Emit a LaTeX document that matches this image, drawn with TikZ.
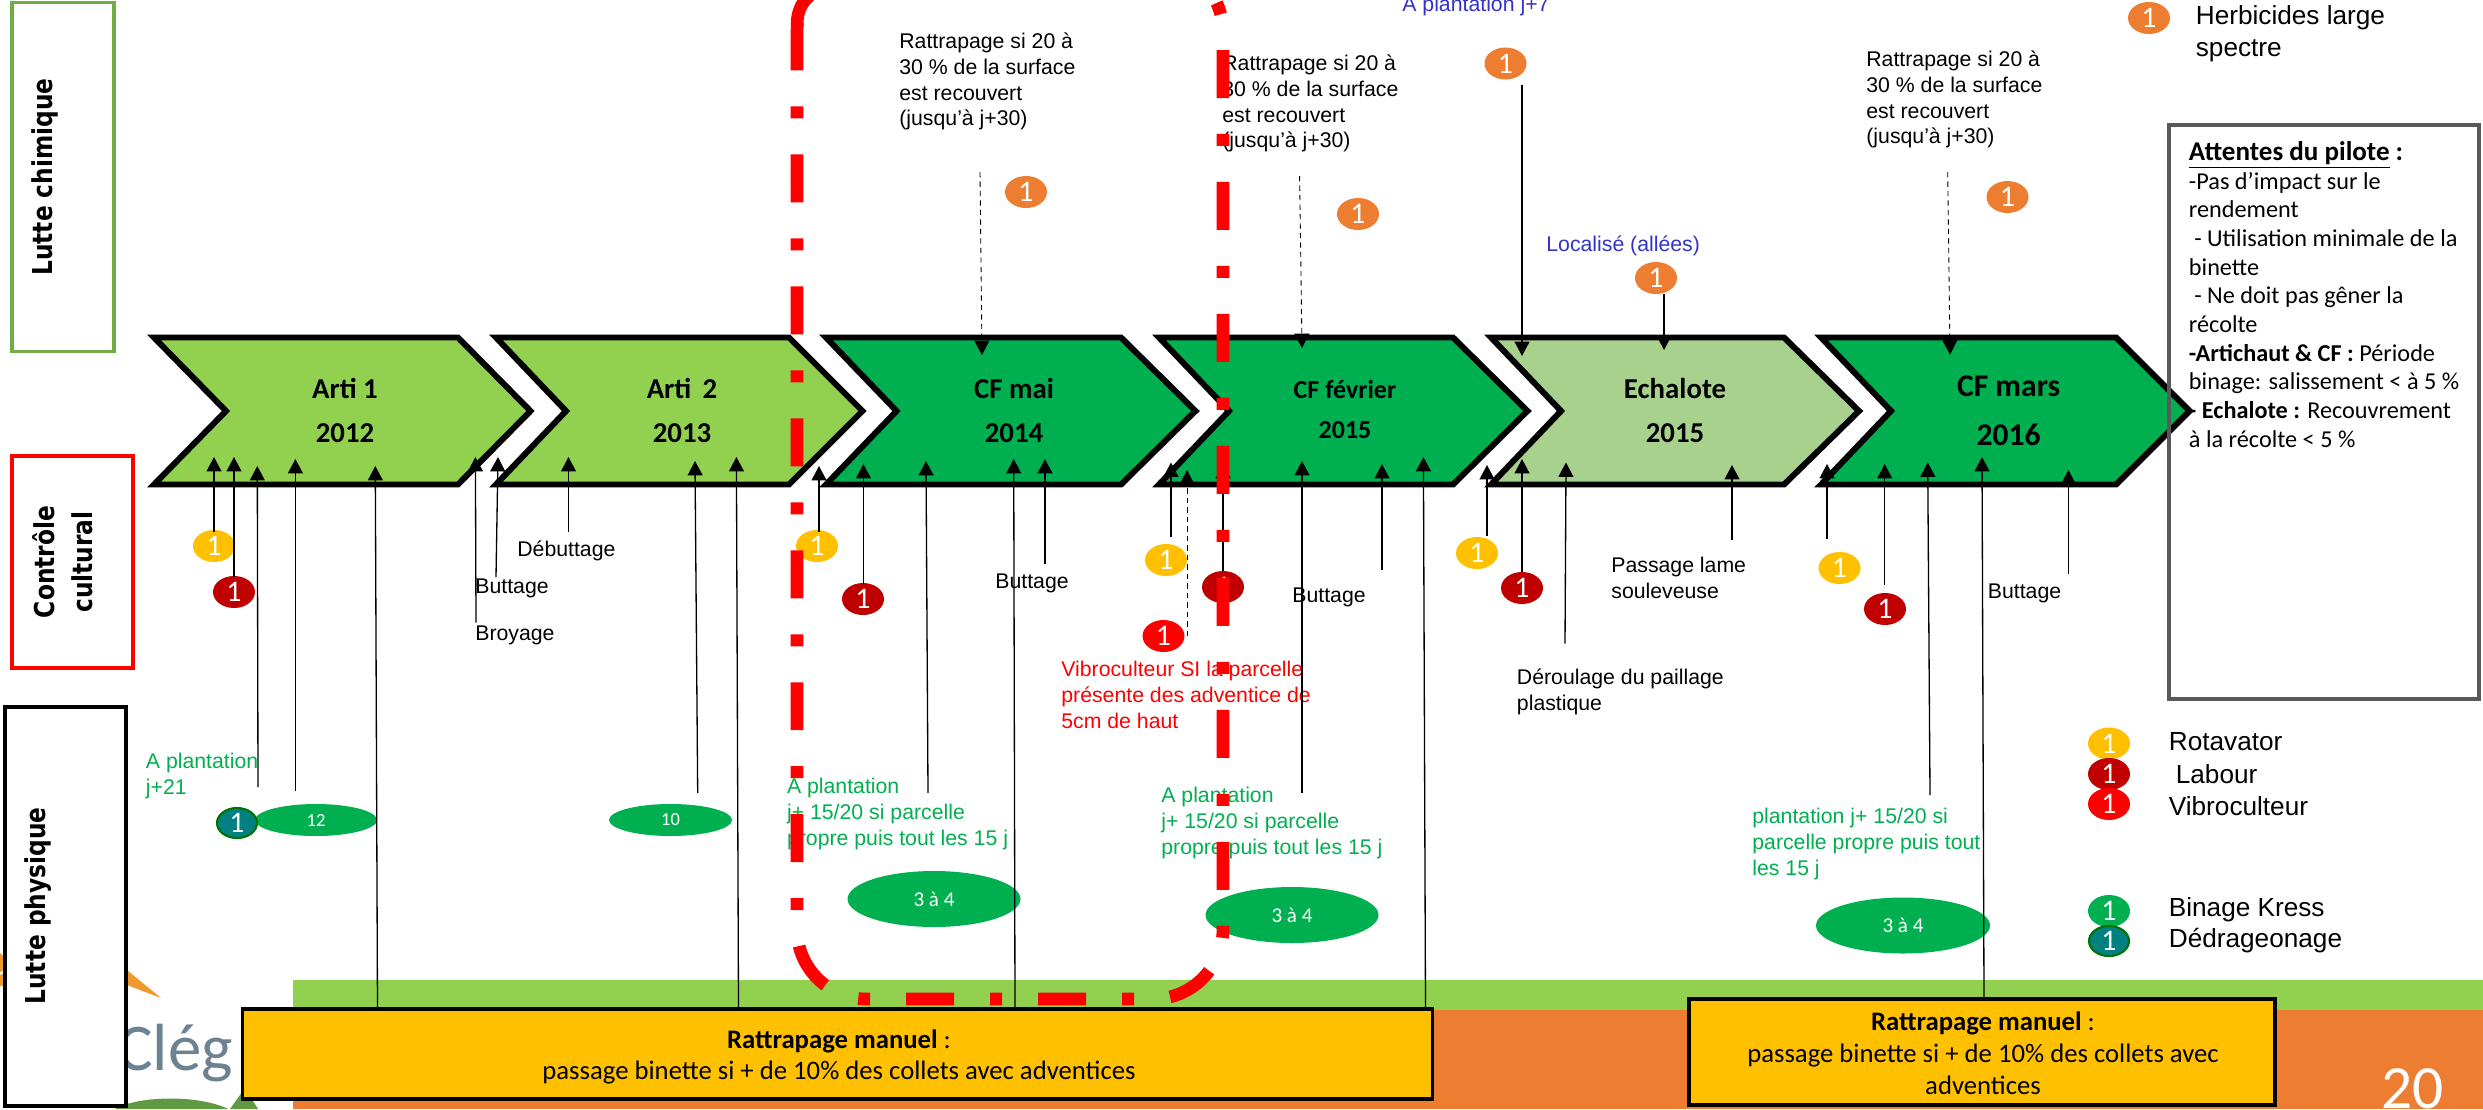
\documentclass[tikz,border=0pt]{standalone}
\usepackage{fontspec}
\usetikzlibrary{arrows.meta,shapes.geometric}
\setmainfont{Liberation Sans}
\newfontfamily\carl{Carlito}
\newfontfamily\djv[FakeStretch=0.85]{DejaVu Sans}
\definecolor{vertA}{HTML}{92D050}
\definecolor{vertB}{HTML}{00B050}
\definecolor{vertC}{HTML}{A9D18E}
\definecolor{orangeB}{HTML}{ED7D31}
\definecolor{jauneB}{HTML}{FFC000}
\definecolor{rougeD}{HTML}{C00000}
\definecolor{tealB}{HTML}{008080}
\definecolor{bleuT}{HTML}{3333CC}
\definecolor{grisB}{HTML}{595959}
\definecolor{grisL}{HTML}{6C8291}
\definecolor{vertL}{HTML}{5F9941}
\definecolor{orangeL}{HTML}{EE9A2E}
\definecolor{vertS}{HTML}{70AD47}
\tikzset{
  x=0.02cm,y=-0.02cm,
  chevron/.style={draw=black,line width=3.4pt,miter limit=10,line join=miter},
  sidebox/.style={draw,fill=white,line width=1.9pt,inner sep=0pt},
  sidetxt/.style={rotate=90,font=\djv\bfseries\fontsize{15.6}{21.5}\selectfont,align=center,inner sep=0pt},
  badge/.style={ellipse,minimum width=42*0.02cm,minimum height=32*0.02cm,inner sep=0pt,text=white,font=\carl\fontsize{17}{17}\selectfont},
  oval/.style={ellipse,fill=vertB,inner sep=0pt,text=white,font=\carl\fontsize{10.5}{12}\selectfont},
  lab/.style={anchor=north west,inner sep=0pt,align=left,font=\fontsize{12.1}{14.74}\selectfont},
  leg/.style={anchor=west,inner sep=0pt,align=left,font=\fontsize{14.9}{18.4}\selectfont},
  chevtxt/.style={inner sep=0pt,font=\carl\bfseries\fontsize{16.4}{18}\selectfont},
  arr/.style={line width=0.75pt,-{Triangle[width=8.5pt,length=8.2pt]}},
  darr/.style={arr,line width=0.5pt,dash pattern=on 3pt off 2.4pt},
  yellowbox/.style={draw=black,fill=jauneB,line width=1.9pt,inner sep=0pt,align=center,font=\carl\fontsize{15.2}{18.1}\selectfont},
}
\newcommand\chev[5]{\draw[chevron,fill=#5] (#1+6,337.5) -- (#3-1,337.5) -- (#4-1.5,411) -- (#3-1,484.5) -- (#1+6,484.5) -- (#2-5,411) -- cycle;}
\newcommand\bdg[4]{\node[badge,fill=#2] (#1) at (#3,#4) {1};}
\newcommand\lb[5]{\node[lab,#4] (#1) at (#2,{#3-11.2}) {\strut #5};}
\newcommand\ar[6][arr]{\coordinate (#2a) at (#3,#4); \coordinate (#2b) at (#5,#6); \draw[#1] (#2a) -- (#2b);}
\begin{document}
\begin{tikzpicture}
\useasboundingbox (0,0) rectangle (2483,1109);
\clip (0,0) rectangle (2483,1109);
\fill[white] (0,0) rectangle (2483,1109);
% background bands
\fill[vertA] (293,980) rectangle (2483,1010);
\fill[orangeB] (293,1010) rectangle (2483,1109);
% logo remnants
\fill[orangeL] (127,970) -- (161,998) -- (127,985) -- cycle;
\fill[orangeL] (0,953) -- (6,958) -- (6,970) -- (0,972) -- cycle;
\fill[orangeL] (0,975) -- (6,972) -- (6,986) -- (0,986) -- cycle;
\node[anchor=base west,inner sep=0pt,text=grisL,font=\carl\fontsize{38}{38}\selectfont] (logotxt) at (117,1070) {Clég};
\fill[vertL] (115,1109) .. controls (140,1095) and (200,1095) .. (228,1109) -- cycle;
\fill[vertL] (230,1109) -- (245,1088) -- (258,1109) -- cycle;
% side boxes
\node[sidebox,draw=vertS,minimum width=102*0.02cm,minimum height=349*0.02cm] (bchim) at (63,177) {};
\node[sidebox,draw=red,minimum width=121*0.02cm,minimum height=212*0.02cm] (bcult) at (72.5,562) {};
\node[sidebox,draw=black,minimum width=121*0.02cm,minimum height=399*0.02cm] (bphys) at (65.5,906.5) {};
\node[sidetxt] (tchim) at (45,177) {Lutte chimique};
\node[sidetxt] (tcult) at (63,562) {Contrôle\\cultural};
\node[sidetxt] (tphys) at (38,906) {Lutte physique};
% chevrons
\chev{148}{231}{459}{532}{vertA}
\chev{490}{571}{790}{864}{vertA}
\chev{820}{901.5}{1122}{1197}{vertB}
\chev{1153}{1234}{1454}{1529}{vertB}
\chev{1485}{1566}{1785}{1860.5}{vertC}
\chev{1815}{1896}{2117}{2191}{vertB}
\node[chevtxt] (c1a) at (345,388.5) {Arti 1};
\node[chevtxt] (c1b) at (345,433) {2012};
\node[chevtxt] (c2a) at (682,388.5) {Arti~\,2};
\node[chevtxt] (c2b) at (682,433) {2013};
\node[chevtxt] (c3a) at (1014,388.5) {CF mai};
\node[chevtxt] (c3b) at (1014,433) {2014};
\node[chevtxt,font=\carl\bfseries\fontsize{14.8}{18}\selectfont] (c4a) at (1345,389) {CF février};
\node[chevtxt,font=\carl\bfseries\fontsize{14.8}{18}\selectfont] (c4b) at (1345,430) {2015};
\node[chevtxt] (c5a) at (1675,388.5) {Echalote};
\node[chevtxt] (c5b) at (1675,433) {2015};
\node[chevtxt,font=\carl\bfseries\fontsize{18}{20}\selectfont] (c6a) at (2008.6,386) {CF mars};
\node[chevtxt,font=\carl\bfseries\fontsize{18}{20}\selectfont] (c6b) at (2008.6,435) {2016};
% green ovals
\node[oval,minimum width=122*0.02cm,minimum height=32*0.02cm] (ov1) at (316,820) {12};
\node[oval,minimum width=123*0.02cm,minimum height=32*0.02cm] (ov2) at (670.5,820) {10};
\node[oval,font=\carl\fontsize{12}{12}\selectfont,minimum width=173*0.02cm,minimum height=56*0.02cm] (ov3) at (934,899) {3 à 4};
\node[oval,font=\carl\fontsize{12}{12}\selectfont,minimum width=173*0.02cm,minimum height=56*0.02cm] (ov4) at (1292,915) {3 à 4};
\node[oval,font=\carl\fontsize{12}{12}\selectfont,minimum width=174*0.02cm,minimum height=56*0.02cm] (ov5) at (1903,925.5) {3 à 4};
% badges
\bdg{o1}{orangeB}{1026}{192}
\bdg{o2}{orangeB}{1358}{214}
\bdg{o3}{orangeB}{1505.5}{63.5}
\bdg{o4}{orangeB}{1656}{278}
\bdg{o5}{orangeB}{2007.5}{197}
\bdg{o6}{orangeB}{2149}{18}
\bdg{y1}{jauneB}{214}{546}
\bdg{y2}{jauneB}{817}{546}
\bdg{y3}{jauneB}{1166}{560}
\bdg{y4}{jauneB}{1477}{553}
\bdg{y5}{jauneB}{1839.5}{568}
\bdg{y6}{jauneB}{2109}{743.5}
\bdg{d1}{rougeD}{234}{592}
\bdg{d2}{rougeD}{863}{599}
\bdg{d3}{rougeD}{1223}{587}
\bdg{d4}{rougeD}{1522}{588}
\bdg{d5}{rougeD}{1885}{609}
\bdg{d6}{rougeD}{2109}{774}
\bdg{r1}{red}{1163.5}{636}
\bdg{r2}{red}{2109}{804}
\bdg{g1}{vertB}{2109}{911}
\node[badge,fill=tealB,draw=green!45!black,line width=1.2pt,minimum width=40*0.02cm,minimum height=30*0.02cm] (t1) at (237,823) {1};
\node[badge,fill=tealB,draw=green!45!black,line width=1.2pt,minimum width=40*0.02cm,minimum height=30*0.02cm] (t2) at (2109,941) {1};
% black labels
\lb{r1t}{899}{41}{}{Rattrapage si 20 à\\30 \% de la surface\\est recouvert\\(jusqu’à j+30)}
\lb{r2t}{1222}{63}{}{Rattrapage si 20 à\\30 \% de la surface\\est recouvert\\(jusqu’à j+30)}
\lb{r3t}{1866}{59}{}{Rattrapage si 20 à\\30 \% de la surface\\est recouvert\\(jusqu’à j+30)}
\lb{bl1}{1402}{4}{text=bleuT}{A plantation j+7}
\lb{bl2}{1546}{244}{text=bleuT}{Localisé (allées)}
\lb{l1}{517}{549}{}{Débuttage}
\lb{l2}{475}{586}{}{Buttage}
\lb{l3}{475}{633}{}{Broyage}
\lb{l4}{995}{581}{}{Buttage}
\lb{l5}{1292}{595}{}{Buttage}
\lb{l6}{1611}{565}{}{Passage lame\\souleveuse}
\lb{l7}{1516.6}{677}{}{Déroulage du paillage\\plastique}
\lb{l8}{1987.5}{591}{}{Buttage}
\lb{rv}{1061}{669}{text=red}{Vibroculteur SI la parcelle\\présente des adventice de\\5cm de haut}
\lb{g1t}{145.6}{761}{text=vertB}{A plantation\\j+21}
\lb{g2t}{786.7}{786}{text=vertB}{A plantation\\j+ 15/20 si parcelle\\propre puis tout les 15 j}
\lb{g3t}{1161}{795}{text=vertB}{A plantation\\j+ 15/20 si parcelle\\propre puis tout les 15 j}
\lb{g4t}{1752}{816}{text=vertB}{plantation j+ 15/20 si\\parcelle propre puis tout\\les 15 j}
% legend
\node[leg] (lg0) at (2195.5,33.5) {Herbicides large\\spectre};
\node[leg] (lg1) at (2168.5,742) {Rotavator};
\node[leg] (lg2) at (2175.5,774) {Labour};
\node[leg] (lg3) at (2168.5,806) {Vibroculteur};
\node[leg] (lg4) at (2168.5,910) {Binage Kress};
\node[leg] (lg5) at (2168.5,941) {Dédrageonage};
% up arrows
\ar{a1}{214}{532}{214}{457}
\ar{a2}{234}{577}{234}{457}
\ar{a3}{258}{787}{257.3}{466}
\ar{a4}{295.4}{791}{295.4}{459}
\ar{a5}{377.5}{1009}{375.3}{466}
\ar{a6}{476}{622.5}{475.4}{457}
\ar{a7}{496}{577}{498}{457}
\ar{a8}{568.5}{532}{568.5}{457}
\ar{a9}{697.7}{793}{695}{461}
\ar{a10}{738.5}{1009}{736.4}{457}
\ar{a11}{819}{532}{819}{466}
\ar{b1}{863.4}{584}{863.4}{464}
\ar{b2}{928}{793}{926}{461}
\ar{b3}{1015}{1009}{1013.7}{459}
\ar{b4}{1045}{563.6}{1045}{459}
\ar{c1}{1171}{537}{1171}{462.5}
\ar[darr]{c2}{1187}{636}{1187}{470}
\ar{c3}{1223}{571}{1223}{464}
\ar{c4}{1302}{793}{1302}{461}
\ar{c5}{1382}{570}{1382}{464}
\ar{c6}{1425.5}{1009}{1423.4}{457}
\ar{d1l}{1487}{536}{1487}{465}
\ar{d2l}{1522}{572}{1522}{459}
\ar{d3l}{1565}{643.5}{1566}{462.5}
\ar{d4l}{1732}{540}{1732}{465}
\ar{e1}{1827}{539}{1827}{464}
\ar{e2}{1884.7}{584.6}{1884.7}{464}
\ar{e3}{1930}{795}{1927.7}{462.5}
\ar{e4}{1984}{999}{1982}{457}
\ar{e5}{2068.4}{574}{2068.4}{470}
% down arrows
\ar[darr]{f1}{980}{172}{982}{355}
\ar[darr]{f2}{1299.6}{176}{1302}{348}
\ar{f3}{1522}{85}{1522}{356}
\ar{f4}{1664}{293.6}{1664}{350}
\ar[darr]{f5}{1947.7}{172}{1950}{354.6}
% yellow boxes
\node[yellowbox,minimum width=1190*0.02cm,minimum height=90*0.02cm] (yb1) at (837.5,1054) {};
\node[inner sep=0pt,align=center,font=\carl\fontsize{15.2}{18.1}\selectfont] (yt1) at (839,1057) {{\bfseries Rattrapage manuel} :\\passage binette si + de 10\% des collets avec adventices};
\node[yellowbox,minimum width=586*0.02cm,minimum height=106*0.02cm] (yb2) at (1982,1052) {};
\node[inner sep=0pt,align=center,font=\carl\fontsize{15.2}{18.1}\selectfont] (yt2) at (1983,1053.5) {{\bfseries Rattrapage manuel} :\\passage binette si + de 10\% des collets avec\\adventices};
\node[inner sep=0pt,text=white,font=\carl\fontsize{35}{35}\selectfont] (pg) at (2412.5,1089) {20};
% attentes box
\draw[grisB,line width=2.6pt] (2169,125) rectangle (2479,699);
\node[anchor=north west,inner sep=0pt,align=left,font=\carl\fontsize{13.8}{16.33}\selectfont] (att) at (2188.6,140) {\strut{\fontsize{15.4}{16.33}\selectfont\bfseries\underline{Attentes du pilote} :}\\-Pas d’impact sur le\\rendement\\\hspace*{3pt}- Utilisation minimale de la\\binette\\\hspace*{3pt}- Ne doit pas gêner la\\récolte\\{\bfseries-Artichaut \& CF :} Période\\binage: salissement < à 5 \%\\{\bfseries- Echalote :} Recouvrement\\à la récolte < 5 \%};
% red dash-dot outline
\draw[red,line width=7.2pt,rounded corners=1.4cm,dash pattern=on 0.96cm off 0.72cm on 0.24cm off 0.72cm,dash phase=0.08cm]
  (1153,-38) -- (1223,-38) -- (1223,999) -- (797,999) -- (797,-38) -- (867,-38);
\coordinate (seamA) at (797,25);
\coordinate (seamB) at (815,-8);
\draw[red,line width=7.2pt] (seamA) .. controls (797,10) and (803,-1) .. (seamB);
\end{tikzpicture}
\end{document}
